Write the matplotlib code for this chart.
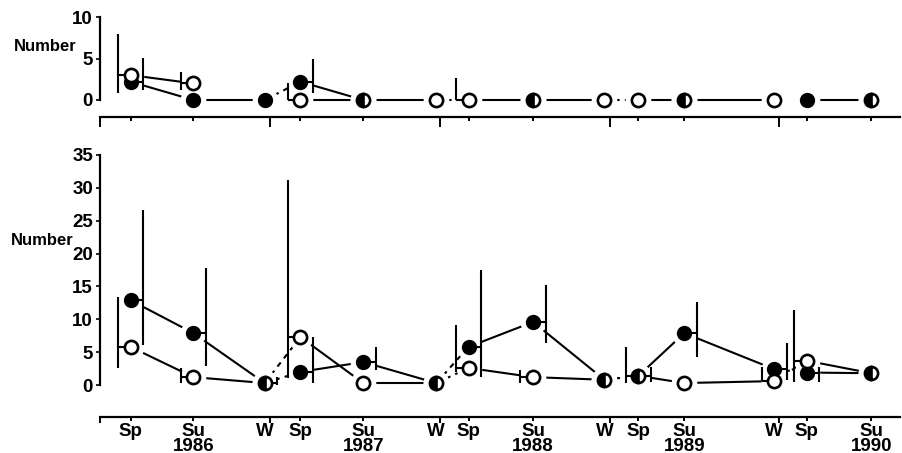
import numpy as np
import matplotlib.pyplot as plt

plt.rcParams['font.family'] = ['Liberation Sans', 'DejaVu Sans']
plt.rcParams['font.weight'] = 'bold'

nan = np.nan

# sampling occasions (decimal years) and their axis labels
seasons = ['Sp', 'Su', 'W', 'Sp', 'Su', 'W', 'Sp', 'Su', 'W', 'Sp', 'Su', 'W', 'Sp', 'Su']
tick_labels = ['Sp', 'Su\n1986', 'W', 'Sp', 'Su\n1987', 'W', 'Sp', 'Su\n1988',
               'W', 'Sp', 'Su\n1989', 'W', 'Sp', 'Su\n1990']
dates = [1986.18, 1986.55, 1986.97, 1987.18, 1987.55, 1987.98, 1988.17, 1988.55,
         1988.97, 1989.17, 1989.44, 1989.97, 1990.16, 1990.54]
years = [1986, 1987, 1988, 1989, 1990]

# upper panel
top_filled = [2.2, 0, 0, 2.2, 0, nan, nan, 0, nan, nan, 0, nan, 0, 0]
top_open = [3.0, 2.0, nan, 0, 0, 0, 0, 0, 0, 0, 0, 0, nan, 0]
top_filled_lo = [1.2, nan, nan, 0.8, nan, nan, nan, nan, nan, nan, nan, nan, nan, nan]
top_filled_hi = [5.1, nan, nan, 5.0, nan, nan, nan, nan, nan, nan, nan, nan, nan, nan]
top_open_lo = [0.9, 1.2, nan, 0.0, nan, nan, 0.0, nan, nan, nan, nan, nan, nan, nan]
top_open_hi = [8.0, 3.4, nan, 2.0, nan, nan, 2.6, nan, nan, nan, nan, nan, nan, nan]

# lower panel
bot_filled = [12.9, 7.9, 0.3, 2.0, 3.5, 0.3, 5.8, 9.6, 0.8, 1.4, 7.9, 2.4, 1.9, 1.8]
bot_open = [5.8, 1.2, 0.3, 7.3, 0.3, 0.3, 2.6, 1.2, 0.8, 1.4, 0.3, 0.6, 3.7, 1.8]
bot_filled_lo = [6.1, 2.9, 0.0, 0.3, 2.3, nan, 1.2, 6.4, nan, 0.5, 4.3, 0.8, 0.5, nan]
bot_filled_hi = [26.6, 17.8, 1.2, 7.3, 5.8, nan, 17.5, 15.2, nan, 2.7, 12.6, 6.4, 2.7, nan]
bot_open_lo = [2.6, 0.3, nan, 1.1, nan, nan, 2.0, 0.3, nan, 0.3, nan, 0.6, 0.5, nan]
bot_open_hi = [13.4, 2.6, nan, 31.2, nan, nan, 9.1, 2.3, nan, 5.8, nan, 2.7, 11.4, nan]

LW = 1.5
MS = 9.5
OFF = 0.075
STUB = 0.035


def draw_panel(ax, filled, opn, f_lo, f_hi, o_lo, o_hi):
    x = np.array(dates)
    f = np.array(filled, dtype=float)
    o = np.array(opn, dtype=float)
    n = len(x)

    # connecting lines, dashed across the winter gap
    for y in (o, f):
        for i in range(n - 1):
            if np.isnan(y[i]) or np.isnan(y[i + 1]):
                continue
            ls = (0, (2.5, 2.5)) if seasons[i] == 'W' else '-'
            ax.plot(x[i:i + 2], y[i:i + 2], color='k', lw=LW, ls=ls,
                    solid_capstyle='butt', zorder=1)

    # range bars: open on the left, filled on the right
    for i in range(n):
        if not np.isnan(o_lo[i]):
            ax.vlines(x[i] - OFF, o_lo[i], o_hi[i], color='k', lw=LW, zorder=3)
            ax.hlines(o[i], x[i] - OFF, x[i] - OFF + STUB, color='k', lw=LW, zorder=3)
        if not np.isnan(f_lo[i]):
            ax.vlines(x[i] + OFF, f_lo[i], f_hi[i], color='k', lw=LW, zorder=3)
            ax.hlines(f[i], x[i] + OFF - STUB, x[i] + OFF, color='k', lw=LW, zorder=3)

    both = np.isclose(f, o)
    # white halo so lines stop short of the symbols
    for y in (f, o):
        ax.plot(x, y, 'o', ms=MS + 9, mfc='white', mec='none', zorder=2)

    fm = np.where(both, nan, f)
    om = np.where(both, nan, o)
    hm = np.where(both, f, nan)
    ax.plot(x, fm, 'o', ms=MS, mfc='k', mec='k', mew=1.5, zorder=4)
    ax.plot(x, om, 'o', ms=MS, mfc='white', mec='k', mew=1.9, zorder=5)
    ax.plot(x, hm, 'o', ms=MS, fillstyle='left', mfc='k', mfcalt='white',
            mec='k', mew=1.9, zorder=5)


fig = plt.figure(figsize=(9.03, 4.53), dpi=100)
ax1 = fig.add_axes([0.1107, 0.7408, 0.886, 0.2308])
ax2 = fig.add_axes([0.1107, 0.0775, 0.886, 0.5876])

draw_panel(ax1, top_filled, top_open, top_filled_lo, top_filled_hi, top_open_lo, top_open_hi)
draw_panel(ax2, bot_filled, bot_open, bot_filled_lo, bot_filled_hi, bot_open_lo, bot_open_hi)

for ax, ylim, ymax, ystep, xpos, major_len in ((ax1, (-2.1, 10.5), 10, 5, -2.04, 7),
                                                (ax2, (-5.0, 35.5), 35, 5, -4.87, 4)):
    ax.set_xlim(1986.0, 1990.71)
    ax.set_ylim(*ylim)
    ax.spines['top'].set_visible(False)
    ax.spines['right'].set_visible(False)
    ax.spines['left'].set_bounds(0, ymax)
    ax.spines['bottom'].set_position(('data', xpos))
    for s in ('left', 'bottom'):
        ax.spines[s].set_linewidth(1.6)
    ax.set_yticks(np.arange(0, ymax + 1, ystep))
    ax.tick_params(axis='y', length=3, width=1.2, pad=2, labelsize=13.5)
    ax.set_xticks(years)
    ax.set_xticklabels([])
    ax.tick_params(axis='x', which='major', length=major_len, width=1.4)
    ax.tick_params(axis='x', which='minor', length=3, width=1.4, pad=1.5, labelsize=13.5)
    ax.set_facecolor('none')

ax1.set_xticks(dates, minor=True)
ax1.set_xticklabels([''] * len(dates), minor=True)
ax2.set_xticks(dates, minor=True)
ax2.set_xticklabels(tick_labels, minor=True, linespacing=0.8)

for ax in (ax1, ax2):
    for tick, s in zip(ax.xaxis.get_minor_ticks(), seasons):
        if s == 'W':
            tick.tick1line.set_visible(False)

fig.text(0.0155, 0.898, 'Number', fontsize=12, fontweight='bold', va='center', ha='left')
fig.text(0.0125, 0.470, 'Number', fontsize=12, fontweight='bold', va='center', ha='left')

fig.savefig('out.png', dpi=100)
